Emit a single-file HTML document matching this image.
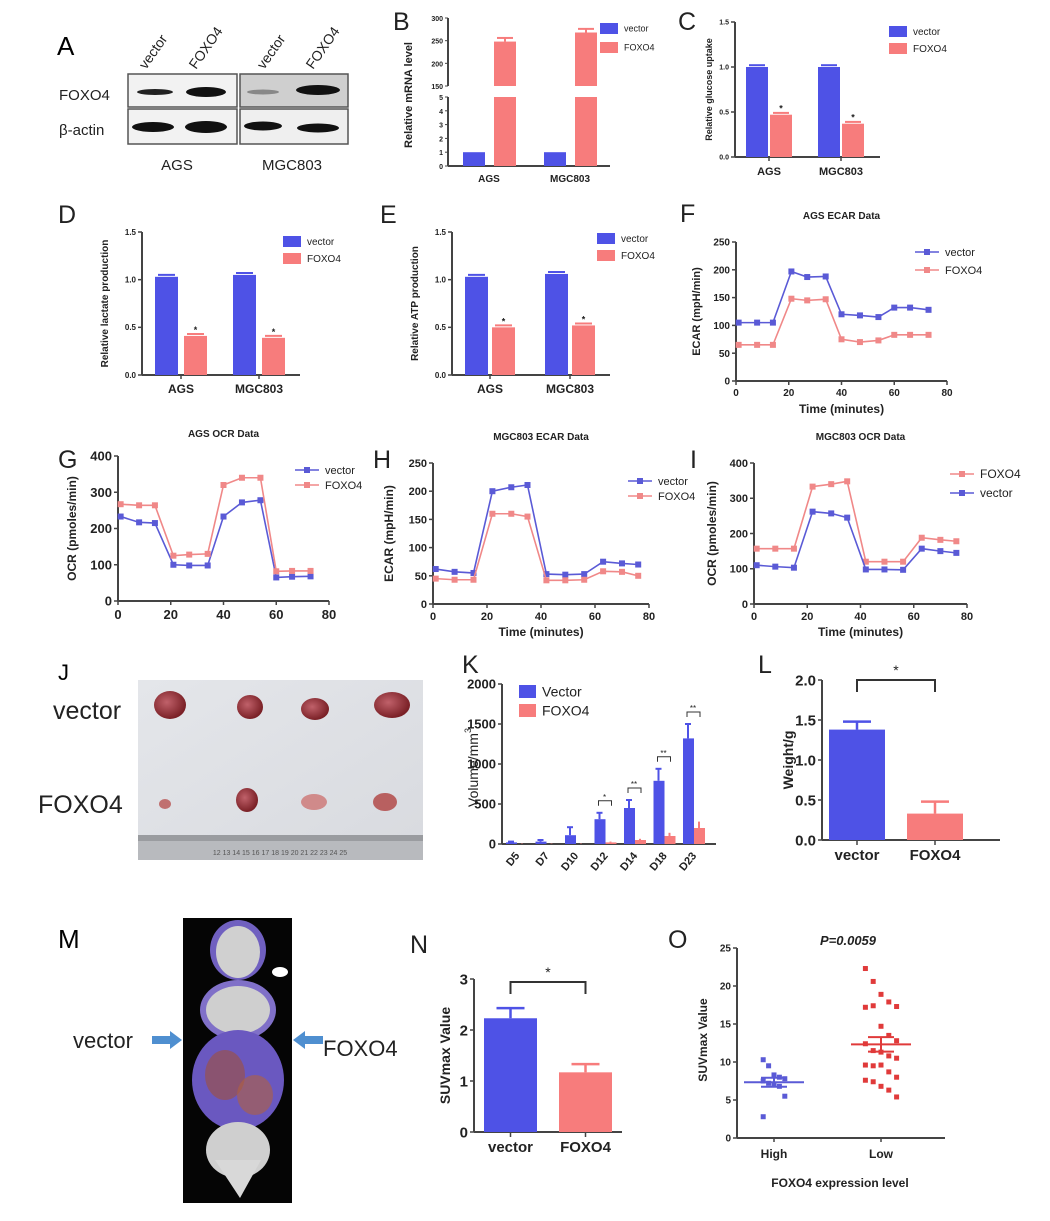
<!DOCTYPE html>
<html><head><meta charset="utf-8"><style>
html,body{margin:0;padding:0;background:#fff;}
svg{display:block;font-family:"Liberation Sans",sans-serif;}
</style></head><body>
<svg id="fig" width="1050" height="1221" viewBox="0 0 1050 1221" xmlns="http://www.w3.org/2000/svg">
<defs>
<radialGradient id="tum" cx="40%" cy="40%" r="60%"><stop offset="0" stop-color="#c0616a"/><stop offset="1" stop-color="#7a2026"/></radialGradient>
<linearGradient id="photo" x1="0" y1="0" x2="1" y2="1"><stop offset="0" stop-color="#e4e6ea"/><stop offset="1" stop-color="#d8dadf"/></linearGradient>
</defs>
<g>
<text x="57" y="55" font-size="26">A</text>
<text transform="translate(146,70) rotate(-55)" font-size="14" fill="#222">vector</text>
<text transform="translate(196,70) rotate(-55)" font-size="14" fill="#222">FOXO4</text>
<text transform="translate(264,70) rotate(-55)" font-size="14" fill="#222">vector</text>
<text transform="translate(313,70) rotate(-55)" font-size="14" fill="#222">FOXO4</text>
<text x="59" y="100" font-size="15" fill="#222">FOXO4</text>
<text x="59" y="135" font-size="15" fill="#222">β-actin</text>
<rect x="128" y="74" width="109" height="33" fill="#f2f2f2" stroke="#555" stroke-width="1.5"/>
<rect x="128" y="109" width="109" height="35" fill="#f2f2f2" stroke="#555" stroke-width="1.5"/>
<rect x="240" y="74" width="108" height="33" fill="#cfcfcf" stroke="#555" stroke-width="1.5"/>
<rect x="240" y="109" width="108" height="35" fill="#efefef" stroke="#555" stroke-width="1.5"/>
<ellipse cx="155" cy="92" rx="18" ry="3" fill="#222"/>
<ellipse cx="206" cy="92" rx="20" ry="5" fill="#111"/>
<ellipse cx="263" cy="92" rx="16" ry="2.5" fill="#888"/>
<ellipse cx="318" cy="90" rx="22" ry="5" fill="#111"/>
<ellipse cx="153" cy="127" rx="21" ry="5" fill="#111"/>
<ellipse cx="206" cy="127" rx="21" ry="6" fill="#111"/>
<ellipse cx="263" cy="126" rx="19" ry="4.5" fill="#111"/>
<ellipse cx="318" cy="128" rx="21" ry="4.5" fill="#111"/>
<text x="177" y="170" font-size="15" text-anchor="middle" fill="#222">AGS</text>
<text x="292" y="170" font-size="15" text-anchor="middle" fill="#222">MGC803</text>
</g>
<g>
<text x="58" y="680" font-size="22">J</text>
<rect x="138" y="680" width="285" height="180" fill="url(#photo)"/>
<rect x="138" y="835" width="285" height="25" fill="#b8babe"/>
<rect x="138" y="835" width="285" height="6" fill="#9a9ca0"/>
<text x="280" y="855" font-size="7" text-anchor="middle" fill="#555">12  13  14  15  16  17  18  19  20  21  22  23  24  25</text>
<ellipse cx="170" cy="705" rx="16" ry="14" fill="url(#tum)"/>
<ellipse cx="250" cy="707" rx="13" ry="12" fill="url(#tum)"/>
<ellipse cx="315" cy="709" rx="14" ry="11" fill="url(#tum)"/>
<ellipse cx="392" cy="705" rx="18" ry="13" fill="url(#tum)"/>
<ellipse cx="165" cy="804" rx="6" ry="5" fill="#c07070"/>
<ellipse cx="247" cy="800" rx="11" ry="12" fill="url(#tum)"/>
<ellipse cx="314" cy="802" rx="13" ry="8" fill="#d08a8a"/>
<ellipse cx="385" cy="802" rx="12" ry="9" fill="#b86060"/>
<text x="53" y="719" font-size="25" fill="#222">vector</text>
<text x="38" y="813" font-size="25" fill="#222">FOXO4</text>
</g>
<g>
<text x="58" y="948" font-size="26">M</text>
<rect x="183" y="918" width="109" height="285" fill="#050505"/>
<ellipse cx="238" cy="950" rx="28" ry="30" fill="#7060c0"/>
<ellipse cx="238" cy="952" rx="22" ry="26" fill="#d0d0d0"/>
<ellipse cx="238" cy="1010" rx="38" ry="30" fill="#8070c8"/>
<ellipse cx="238" cy="1010" rx="32" ry="24" fill="#cfcfcf"/>
<ellipse cx="280" cy="972" rx="8" ry="5" fill="#fff"/>
<ellipse cx="238" cy="1080" rx="46" ry="50" fill="#6a58c0"/>
<ellipse cx="225" cy="1075" rx="20" ry="25" fill="#a0503a" opacity="0.6"/>
<ellipse cx="255" cy="1095" rx="18" ry="20" fill="#b06040" opacity="0.6"/>
<ellipse cx="238" cy="1150" rx="32" ry="28" fill="#cfcfcf"/>
<polygon points="215,1160 261,1160 240,1198" fill="#d8d8d8"/>
<text x="73" y="1048" font-size="22" fill="#222">vector</text>
<polygon points="152,1036 170,1036 170,1031 182,1040 170,1049 170,1044 152,1044" fill="#4f8fd0"/>
<polygon points="323,1036 305,1036 305,1031 293,1040 305,1049 305,1044 323,1044" fill="#4f8fd0"/>
<text x="323" y="1056" font-size="22" fill="#222">FOXO4</text>
</g>
</svg>
<script>
const groups = ["AGS", "MGC803"];
const mrnaVector = [1, 1];
const mrnaFoxo4 = [248, 268];
const glucoseVector = [1.0, 1.0];
const glucoseFoxo4 = [0.47, 0.37];
const lactateVector = [1.03, 1.05];
const lactateFoxo4 = [0.41, 0.39];
const atpVector = [1.03, 1.06];
const atpFoxo4 = [0.5, 0.52];

const timesAGS = [1, 8, 14, 21, 27, 34, 40, 47, 54, 60, 66, 73];
const agsEcarVector = [105, 105, 105, 197, 187, 188, 120, 118, 115, 132, 132, 128];
const agsEcarFoxo4 = [65, 65, 65, 148, 145, 147, 75, 70, 73, 83, 83, 83];
const agsOcrVector = [233, 217, 215, 100, 98, 98, 233, 272, 278, 65, 67, 68];
const agsOcrFoxo4 = [267, 264, 264, 125, 128, 130, 320, 340, 340, 82, 83, 83];
const timesMGC = [1, 8, 15, 22, 29, 35, 42, 49, 56, 63, 70, 76];
const mgcEcarVector = [62, 57, 55, 200, 207, 211, 53, 52, 53, 75, 72, 70];
const mgcEcarFoxo4 = [45, 43, 43, 160, 160, 155, 42, 42, 43, 58, 57, 50];
const mgcOcrVector = [110, 106, 103, 262, 257, 245, 98, 98, 97, 157, 150, 145];
const mgcOcrFoxo4 = [157, 157, 157, 333, 340, 348, 120, 120, 120, 188, 182, 178];

const days = ["D5", "D7", "D10", "D12", "D14", "D18", "D23"];
const volVector = [20, 30, 110, 310, 450, 790, 1320];
const volVectorErr = [10, 20, 100, 80, 100, 150, 180];
const volFoxo4 = [0, 0, 0, 20, 50, 100, 200];
const volFoxo4Err = [5, 5, 5, 10, 15, 40, 80];
const volStars = ["", "", "", "*", "**", "**", "**"];

const weightCats = ["vector", "FOXO4"];
const weightVals = [1.38, 0.33];
const weightErr = [0.1, 0.15];
const suvCats = ["vector", "FOXO4"];
const suvVals = [2.23, 1.17];
const suvErr = [0.2, 0.16];

const scatterCats = ["High", "Low"];
const suvHigh = [10.3, 9.5, 8.3, 8.0, 7.8, 7.5, 7.2, 7.0, 6.8, 5.5, 2.8];
const suvLow = [22.3, 20.6, 18.9, 17.9, 17.3, 17.2, 17.4, 14.7, 13.5, 12.8, 12.4, 11.5, 11.3, 10.8, 10.5, 9.6, 9.5, 9.6, 8.7, 8.0, 7.6, 7.4, 6.8, 6.3, 5.4];

const NS = "http://www.w3.org/2000/svg";
const svg = document.getElementById("fig");
const BLUE = "#4e52e6", RED = "#f77c7c", LBLUE = "#5a5ad6", LRED = "#f08888", AX = "#444";
function mk(tag, attrs, parent) {
  const e = document.createElementNS(NS, tag);
  for (const k in attrs) e.setAttribute(k, attrs[k]);
  (parent || svg).appendChild(e);
  return e;
}
function txt(s, x, y, size, parent, extra) {
  const t = mk("text", Object.assign({x: x, y: y, "font-size": size, fill: "#222"}, extra || {}), parent);
  t.textContent = s;
  return t;
}
function linScale(d0, d1, r0, r1) { return v => r0 + (v - d0) / (d1 - d0) * (r1 - r0); }
function group(name) {
  const g = mk("g", {});
  
  
  return g;
}
function yAxis(g, x, y, ticks, fmt, size) {
  mk("line", {x1: x, y1: y(ticks[ticks.length - 1]), x2: x, y2: y(ticks[0]), stroke: AX, "stroke-width": 2}, g);
  ticks.forEach(t => {
    mk("line", {x1: x - 4, y1: y(t), x2: x, y2: y(t), stroke: AX, "stroke-width": 1.5}, g);
    const l = txt(fmt(t), x - 6, y(t) + size * 0.36, size, g, {"text-anchor": "end", "font-weight": "bold"});
    
    
  });
}
function yTitle(g, s, x, y, size) {
  const t = txt(s, 0, 0, size, g, {"text-anchor": "middle", "font-weight": "bold", transform: "translate(" + x + "," + y + ") rotate(-90)"});
  
  
}
function legendBox(g, x, y, w, h, color, label, size) {
  const r = mk("rect", {x: x, y: y, width: w, height: h, fill: color}, g);
  
  
  const t = txt(label, x + w + 6, y + h / 2 + size * 0.36, size, g);
  
  
}
function panelLabel(s, x, y) {
  const t = txt(s, x, y, 25, svg);
  
  
}

function groupedBars(name, cfg) {
  const g = group(name);
  const y = linScale(0, 1.5, cfg.y0, cfg.y1);
  yAxis(g, cfg.ax, y, [0, 0.5, 1.0, 1.5], v => v.toFixed(1), cfg.tick);
  mk("line", {x1: cfg.ax, y1: cfg.y0, x2: cfg.axEnd, y2: cfg.y0, stroke: AX, "stroke-width": 2}, g);
  groups.forEach((gr, i) => {
    const bx = cfg.bx[i];
    [[cfg.v[i], BLUE], [cfg.f[i], RED]].forEach((p, j) => {
      const x = bx + j * (cfg.bw + cfg.gap);
      const b = mk("rect", {x: x, y: y(p[0]), width: cfg.bw, height: cfg.y0 - y(p[0]), fill: p[1]}, g);
      
      
      mk("line", {x1: x + 3, y1: y(p[0] + 0.02), x2: x + cfg.bw - 3, y2: y(p[0] + 0.02), stroke: p[1], "stroke-width": 2}, g);
      if (j) txt("*", x + cfg.bw / 2, y(p[0]) - 3, 9, g, {"text-anchor": "middle", "font-weight": "bold"});
    });
    mk("line", {x1: bx + cfg.bw + cfg.gap / 2, y1: cfg.y0, x2: bx + cfg.bw + cfg.gap / 2, y2: cfg.y0 + 4, stroke: AX, "stroke-width": 1.5}, g);
    const l = txt(gr, bx + cfg.bw + cfg.gap / 2, cfg.y0 + 18, cfg.xl, g, {"text-anchor": "middle", "font-weight": "bold"});
    
    
  });
  yTitle(g, cfg.title, cfg.tx, (cfg.y0 + cfg.y1) / 2, cfg.tsize);
  legendBox(g, cfg.lx, cfg.ly, 18, 11, BLUE, "vector", 10);
  legendBox(g, cfg.lx, cfg.ly + 17, 18, 11, RED, "FOXO4", 10);
}
panelLabel("C", 678, 30);
groupedBars("glucose-uptake-chart", {ax: 735, axEnd: 880, y0: 157, y1: 22, bx: [746, 818], bw: 22, gap: 2, v: glucoseVector, f: glucoseFoxo4, title: "Relative glucose uptake", tx: 712, tsize: 9, tick: 7, xl: 11, lx: 889, ly: 26});
panelLabel("D", 58, 223);
groupedBars("lactate-chart", {ax: 142, axEnd: 300, y0: 375, y1: 232, bx: [155, 233], bw: 23, gap: 6, v: lactateVector, f: lactateFoxo4, title: "Relative lactate production", tx: 108, tsize: 10, tick: 8, xl: 12, lx: 283, ly: 236});
panelLabel("E", 380, 223);
groupedBars("atp-chart", {ax: 452, axEnd: 610, y0: 375, y1: 232, bx: [465, 545], bw: 23, gap: 4, v: atpVector, f: atpFoxo4, title: "Relative ATP production", tx: 418, tsize: 10, tick: 8, xl: 12, lx: 597, ly: 233});

panelLabel("B", 393, 30);
(function () {
  const g = group("mrna-chart");
  const ax = 448, y0 = 166;
  const yl = linScale(0, 5, 166, 97), yu = linScale(150, 300, 86, 18);
  const y = v => v <= 5 ? yl(v) : yu(v);
  mk("line", {x1: ax, y1: 97, x2: ax, y2: 166, stroke: AX, "stroke-width": 2}, g);
  mk("line", {x1: ax, y1: 18, x2: ax, y2: 86, stroke: AX, "stroke-width": 2}, g);
  [0, 1, 2, 3, 4, 5].forEach(t => { mk("line", {x1: ax - 3, y1: yl(t), x2: ax, y2: yl(t), stroke: AX}, g); txt(String(t), ax - 5, yl(t) + 3, 7, g, {"text-anchor": "end", "font-weight": "bold"}); });
  [150, 200, 250, 300].forEach(t => { mk("line", {x1: ax - 3, y1: yu(t), x2: ax, y2: yu(t), stroke: AX}, g); txt(String(t), ax - 5, yu(t) + 3, 7, g, {"text-anchor": "end", "font-weight": "bold"}); });
  mk("line", {x1: ax, y1: y0, x2: 610, y2: y0, stroke: AX, "stroke-width": 2}, g);
  const bxs = [463, 544];
  groups.forEach((gr, i) => {
    const bx = bxs[i];
    const vb = mk("rect", {x: bx, y: y(mrnaVector[i]), width: 22, height: y0 - y(mrnaVector[i]), fill: BLUE}, g);
    
    
    const fx = bx + 31;
    const fb1 = mk("rect", {x: fx, y: 97, width: 22, height: y0 - 97, fill: RED}, g);
    
    
    const fb2 = mk("rect", {x: fx, y: y(mrnaFoxo4[i]), width: 22, height: 86 - y(mrnaFoxo4[i]), fill: RED}, g);
    
    
    mk("line", {x1: fx + 3, y1: y(mrnaFoxo4[i] + 8), x2: fx + 19, y2: y(mrnaFoxo4[i] + 8), stroke: RED, "stroke-width": 2}, g);
    mk("line", {x1: fx + 11, y1: y(mrnaFoxo4[i] + 8), x2: fx + 11, y2: y(mrnaFoxo4[i]), stroke: RED, "stroke-width": 2}, g);
    txt(gr, bx + 26, y0 + 16, 10, g, {"text-anchor": "middle", "font-weight": "bold"});
  });
  yTitle(g, "Relative mRNA level", 412, 95, 11);
  legendBox(g, 600, 23, 18, 11, BLUE, "vector", 9);
  legendBox(g, 600, 42, 18, 11, RED, "FOXO4", 9);
})();

function lineChart(name, cfg) {
  const g = group(name);
  const x = linScale(0, 80, cfg.x0, cfg.x1);
  const y = linScale(0, cfg.ymax, cfg.y0, cfg.y1);
  yAxis(g, cfg.x0, y, cfg.yt, String, cfg.tick);
  mk("line", {x1: cfg.x0, y1: cfg.y0, x2: cfg.x1, y2: cfg.y0, stroke: AX, "stroke-width": 2}, g);
  [0, 20, 40, 60, 80].forEach(t => {
    mk("line", {x1: x(t), y1: cfg.y0, x2: x(t), y2: cfg.y0 + 4, stroke: AX, "stroke-width": 1.5}, g);
    const l = txt(String(t), x(t), cfg.y0 + cfg.tick + 5, cfg.tick, g, {"text-anchor": "middle", "font-weight": "bold"});
    
    
  });
  cfg.series.forEach(s => {
    const pts = cfg.t.map((t, i) => x(t) + "," + y(s.v[i])).join(" ");
    const pl = mk("polyline", {points: pts, fill: "none", stroke: s.c, "stroke-width": 1.6}, g);
    
    
    cfg.t.forEach((t, i) => {
      const m = mk("rect", {x: x(t) - 3, y: y(s.v[i]) - 3, width: 6, height: 6, fill: s.c}, g);
      
      
    });
  });
  const tt = txt(cfg.title, (cfg.x0 + cfg.x1) / 2, cfg.ty, 10, g, {"text-anchor": "middle", "font-weight": "bold"});
  
  
  yTitle(g, cfg.ylab, cfg.yx, (cfg.y0 + cfg.y1) / 2, cfg.ylsize);
  if (cfg.xlab) {
    const xl = txt("Time (minutes)", (cfg.x0 + cfg.x1) / 2, cfg.y0 + 32, 12, g, {"text-anchor": "middle", "font-weight": "bold"});
    
    
  }
  cfg.series.forEach((s, i) => {
    const ly = cfg.ly + i * cfg.lgap;
    mk("line", {x1: cfg.lx, y1: ly, x2: cfg.lx + 24, y2: ly, stroke: s.c, "stroke-width": 1.6}, g);
    mk("rect", {x: cfg.lx + 9, y: ly - 3, width: 6, height: 6, fill: s.c}, g);
    const l = txt(s.n, cfg.lx + 30, ly + 4, cfg.lsize, g);
    
    
  });
}
panelLabel("F", 680, 222);
lineChart("ags-ecar-chart", {x0: 736, x1: 947, y0: 381, y1: 242, ymax: 250, yt: [0, 50, 100, 150, 200, 250], tick: 10, t: timesAGS,
  series: [{n: "vector", v: agsEcarVector, c: LBLUE}, {n: "FOXO4", v: agsEcarFoxo4, c: LRED}], title: "AGS ECAR Data", ty: 219,
  ylab: "ECAR (mpH/min)", yx: 700, ylsize: 11, xlab: true, lx: 915, ly: 252, lgap: 18, lsize: 11});
panelLabel("G", 58, 468);
lineChart("ags-ocr-chart", {x0: 118, x1: 329, y0: 601, y1: 456, ymax: 400, yt: [0, 100, 200, 300, 400], tick: 13, t: timesAGS,
  series: [{n: "vector", v: agsOcrVector, c: LBLUE}, {n: "FOXO4", v: agsOcrFoxo4, c: LRED}], title: "AGS OCR Data", ty: 437,
  ylab: "OCR (pmoles/min)", yx: 76, ylsize: 12, xlab: false, lx: 295, ly: 470, lgap: 15, lsize: 11});
panelLabel("H", 373, 468);
lineChart("mgc-ecar-chart", {x0: 433, x1: 649, y0: 604, y1: 463, ymax: 250, yt: [0, 50, 100, 150, 200, 250], tick: 11, t: timesMGC,
  series: [{n: "vector", v: mgcEcarVector, c: LBLUE}, {n: "FOXO4", v: mgcEcarFoxo4, c: LRED}], title: "MGC803 ECAR Data", ty: 440,
  ylab: "ECAR (mpH/min)", yx: 393, ylsize: 12, xlab: true, lx: 628, ly: 481, lgap: 15, lsize: 11});
panelLabel("I", 690, 468);
lineChart("mgc-ocr-chart", {x0: 754, x1: 967, y0: 604, y1: 463, ymax: 400, yt: [0, 100, 200, 300, 400], tick: 11, t: timesMGC,
  series: [{n: "FOXO4", v: mgcOcrFoxo4, c: LRED}, {n: "vector", v: mgcOcrVector, c: LBLUE}], title: "MGC803 OCR Data", ty: 440,
  ylab: "OCR (pmoles/min)", yx: 716, ylsize: 12, xlab: true, lx: 950, ly: 474, lgap: 19, lsize: 12});

panelLabel("K", 462, 673);
(function () {
  const g = group("tumor-volume-chart");
  const ax = 502, y0 = 844;
  const y = linScale(0, 2000, 844, 684);
  yAxis(g, ax, y, [0, 500, 1000, 1500, 2000], String, 13);
  mk("line", {x1: ax, y1: y0, x2: 716, y2: y0, stroke: AX, "stroke-width": 2}, g);
  const step = 29.5, start = 511;
  days.forEach((d, i) => {
    const cx = start + i * step;
    const bv = mk("rect", {x: cx - 5, y: y(volVector[i]), width: 11, height: y0 - y(volVector[i]), fill: BLUE}, g);
    
    
    mk("line", {x1: cx, y1: y(volVector[i]), x2: cx, y2: y(volVector[i] + volVectorErr[i]), stroke: BLUE, "stroke-width": 2}, g);
    mk("line", {x1: cx - 3, y1: y(volVector[i] + volVectorErr[i]), x2: cx + 3, y2: y(volVector[i] + volVectorErr[i]), stroke: BLUE, "stroke-width": 2}, g);
    const bf = mk("rect", {x: cx + 6, y: y(volFoxo4[i]), width: 11, height: y0 - y(volFoxo4[i]), fill: RED}, g);
    
    
    mk("line", {x1: cx + 11, y1: y(volFoxo4[i]), x2: cx + 11, y2: y(volFoxo4[i] + volFoxo4Err[i]), stroke: RED, "stroke-width": 2}, g);
    if (volStars[i]) {
      const by = y(volVector[i] + volVectorErr[i]) - 12;
      mk("path", {d: "M" + (cx - 1) + "," + (by + 5) + " V" + by + " H" + (cx + 12) + " V" + (by + 5), fill: "none", stroke: "#333", "stroke-width": 1}, g);
      txt(volStars[i], cx + 5, by - 1, 8, g, {"text-anchor": "middle"});
    }
    const l = txt(d, 0, 0, 11, g, {"text-anchor": "end", "font-weight": "bold", transform: "translate(" + (cx + 9) + "," + (y0 + 12) + ") rotate(-50)"});
    
    
  });
  const t = txt("Volume/mm", 0, 0, 14, g, {"text-anchor": "middle", transform: "translate(478,770) rotate(-90)"});
  
  
  txt("3", 0, 0, 9, g, {transform: "translate(471,733) rotate(-90)"});
  legendBox(g, 519, 685, 17, 13, BLUE, "Vector", 14);
  legendBox(g, 519, 704, 17, 13, RED, "FOXO4", 14);
})();

function twoBar(name, cfg) {
  const g = group(name);
  const y = linScale(0, cfg.ymax, cfg.y0, cfg.y1);
  yAxis(g, cfg.ax, y, cfg.yt, cfg.fmt, 15);
  mk("line", {x1: cfg.ax, y1: cfg.y0, x2: cfg.axEnd, y2: cfg.y0, stroke: AX, "stroke-width": 2}, g);
  cfg.cats.forEach((c, i) => {
    const bx = cfg.bx[i], col = i ? RED : BLUE;
    const b = mk("rect", {x: bx, y: y(cfg.v[i]), width: cfg.bw, height: cfg.y0 - y(cfg.v[i]), fill: col}, g);
    
    
    const cx = bx + cfg.bw / 2, et = y(cfg.v[i] + cfg.e[i]);
    mk("line", {x1: cx, y1: y(cfg.v[i]), x2: cx, y2: et, stroke: col, "stroke-width": 2.5}, g);
    mk("line", {x1: cx - 14, y1: et, x2: cx + 14, y2: et, stroke: col, "stroke-width": 2.5}, g);
    mk("line", {x1: cx, y1: cfg.y0, x2: cx, y2: cfg.y0 + 5, stroke: AX, "stroke-width": 1.5}, g);
    const l = txt(c, cx, cfg.y0 + 20, 15, g, {"text-anchor": "middle", "font-weight": "bold"});
    
    
  });
  const c0 = cfg.bx[0] + cfg.bw / 2, c1 = cfg.bx[1] + cfg.bw / 2;
  const br = mk("path", {d: "M" + c0 + "," + (cfg.by + 12) + " V" + cfg.by + " H" + c1 + " V" + (cfg.by + 12), fill: "none", stroke: "#333", "stroke-width": 2}, g);
  
  
  txt("*", (c0 + c1) / 2, cfg.by - 5, 14, g, {"text-anchor": "middle"});
  yTitle(g, cfg.title, cfg.tx, (cfg.y0 + cfg.y1) / 2, 14);
}
panelLabel("L", 758, 673);
twoBar("tumor-weight-chart", {ax: 822, axEnd: 1000, y0: 840, y1: 680, ymax: 2.0, yt: [0, 0.5, 1.0, 1.5, 2.0], fmt: v => v.toFixed(1),
  cats: weightCats, v: weightVals, e: weightErr, bx: [829, 907], bw: 56, by: 680, title: "Weight/g", tx: 793});
panelLabel("N", 410, 953);
twoBar("suvmax-bar-chart", {ax: 474, axEnd: 622, y0: 1132, y1: 979, ymax: 3, yt: [0, 1, 2, 3], fmt: String,
  cats: suvCats, v: suvVals, e: suvErr, bx: [484, 559], bw: 53, by: 982, title: "SUVmax Value", tx: 450});

txt("O", 668, 948, 25, svg);
(function () {
  const g = group("suvmax-scatter-chart");
  const ax = 737, y0 = 1138;
  const y = linScale(0, 25, 1138, 948);
  yAxis(g, ax, y, [0, 5, 10, 15, 20, 25], String, 10);
  mk("line", {x1: ax, y1: y0, x2: 945, y2: y0, stroke: AX, "stroke-width": 2}, g);
  const cxs = [774, 881];
  const sets = [suvHigh, suvLow], cols = ["#5a5ad6", "#e03a3a"];
  sets.forEach((s, k) => {
    const cx = cxs[k];
    s.forEach((v, i) => {
      const off = ((i % 5) - 2) * 6 * (k ? 1.3 : 0.9);
      const p = mk("rect", {x: cx + off - 2.5, y: y(v) - 2.5, width: 5, height: 5, fill: cols[k]}, g);
      
      
    });
    const mean = s.reduce((a, b) => a + b, 0) / s.length;
    const sd = Math.sqrt(s.reduce((a, b) => a + (b - mean) * (b - mean), 0) / (s.length - 1));
    const sem = sd / Math.sqrt(s.length);
    mk("line", {x1: cx - 30, y1: y(mean), x2: cx + 30, y2: y(mean), stroke: cols[k], "stroke-width": 2}, g);
    mk("line", {x1: cx - 13, y1: y(mean + sem), x2: cx + 13, y2: y(mean + sem), stroke: cols[k], "stroke-width": 2}, g);
    mk("line", {x1: cx - 13, y1: y(mean - sem), x2: cx + 13, y2: y(mean - sem), stroke: cols[k], "stroke-width": 2}, g);
    mk("line", {x1: cx, y1: y(mean + sem), x2: cx, y2: y(mean - sem), stroke: cols[k], "stroke-width": 2}, g);
    mk("line", {x1: cx, y1: y0, x2: cx, y2: y0 + 4, stroke: AX, "stroke-width": 1.5}, g);
    const l = txt(scatterCats[k], cx, y0 + 20, 12, g, {"text-anchor": "middle", "font-weight": "bold"});
    
    
  });
  const t = txt("P=0.0059", 848, 945, 13, g, {"text-anchor": "middle", "font-weight": "bold", "font-style": "italic"});
  
  
  const xt = txt("FOXO4 expression level", 840, 1187, 12, g, {"text-anchor": "middle", "font-weight": "bold"});
  
  
  yTitle(g, "SUVmax Value", 707, 1040, 12);
})();
</script>
</body></html>
